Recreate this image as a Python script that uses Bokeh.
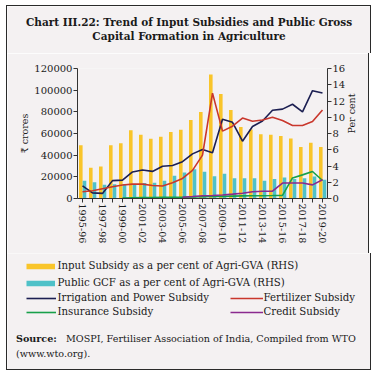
import math
from bokeh.plotting import figure
from bokeh.layouts import column
from bokeh.models import (Range1d, LinearAxis, FixedTicker, Legend, LegendItem, Label,
                          ColumnDataSource, BasicTickFormatter)
from bokeh.transform import dodge
from bokeh.embed import file_html
from bokeh.resources import INLINE

nan = float("nan")

years = ["1995-96", "1996-97", "1997-98", "1998-99", "1999-00", "2000-01", "2001-02",
         "2002-03", "2003-04", "2004-05", "2005-06", "2006-07", "2007-08", "2008-09",
         "2009-10", "2010-11", "2011-12", "2012-13", "2013-14", "2014-15", "2015-16",
         "2016-17", "2017-18", "2018-19", "2019-20"]

input_subsidy_pct = [6.55, 3.8, 3.95, 6.55, 6.8, 8.4, 7.85, 7.35, 7.6, 8.2, 8.45, 9.65, 10.65,
                     15.25, 12.85, 10.9, 8.8, 8.5, 7.9, 7.85, 7.7, 7.4, 6.35, 6.85, 6.35]
public_gcf_pct = [2.2, 2.0, 1.7, 1.75, 1.8, 1.75, 1.9, 1.95, 2.2, 2.8, 3.2, 3.6, 3.3, 2.75,
                  3.05, 2.5, 2.5, 2.5, 2.2, 2.4, 2.6, 2.4, 2.5, 2.7, 2.3]
irrigation_power = [11700, 5200, 4700, 16500, 17000, 24500, 26300, 25000, 29700, 30500, 34000,
                    41200, 45300, 42200, 73200, 70300, 52900, 66500, 71500, 81500, 82500,
                    87000, 80000, 99500, 97300]
fertilizer = [6300, 7200, 9000, 10800, 12400, 13300, 13300, 12000, 11500, 14500, 18500, 26000,
              40000, 97300, 62200, 66700, 74300, 71300, 72500, 75000, 72000, 67400, 67400,
              71000, 81700]
insurance = [nan, nan, nan, nan, 400, 600, 800, 900, 1000, 1100, 1200, 1400, 1600, 1800, 2000,
             2200, 2400, 2500, 2600, 2700, 2900, 19000, 21800, 24900, 16600]
credit = [nan] * 10 + [1200, 1800, 2500, 2800, 3200, 4000, 4900, 6300, 6700, 6700, 14300,
                       14300, 14300, 12600, 17300]

left_ticks = [0, 20000, 40000, 60000, 80000, 100000, 120000]
right_ticks = [0, 2, 4, 6, 8, 10, 12, 14, 16]

FONT = "DejaVu Serif"
BG = "#f4f1f2"
INK = "#1a1a1a"
EDGE = "1.5px solid #2a2a2a"
C_IN, C_GCF = "#f9c52a", "#4fc1c8"
C_IRR, C_FER, C_INS, C_CRE = "#1c1f52", "#c9372c", "#18a04a", "#8a2a8f"
W = 363

idx = list(range(len(years)))
src = ColumnDataSource(dict(idx=idx, inp=input_subsidy_pct, gcf=public_gcf_pct,
                            irr=irrigation_power, fer=fertilizer, ins=insurance, cre=credit))


def no_align(f):
    if "frame_align" in f.properties():
        f.frame_align = False


def blank_fig(h, styles):
    f = figure(frame_width=W, frame_height=h, output_backend="svg", toolbar_location=None,
               x_range=Range1d(0, W), y_range=Range1d(0, h),
               x_axis_type=None, y_axis_type=None, min_border=0,
               min_border_left=0, min_border_right=0, min_border_top=0, min_border_bottom=0,
               background_fill_color=BG, border_fill_color=BG, outline_line_color=None)
    f.xgrid.visible = False
    f.ygrid.visible = False
    f.styles = styles
    no_align(f)
    return f


def lab(f, text, x, y, size, bold=False, align="left"):
    f.add_layout(Label(x=x, y=y, x_units="screen", y_units="screen", text=text,
                       text_font=FONT, text_font_size=size, text_color=INK,
                       text_font_style="bold" if bold else "normal",
                       text_align=align, text_baseline="middle"))


# ---- title ----
t = blank_fig(47, {"border-top": EDGE, "border-left": EDGE, "border-right": EDGE})
lab(t, "Chart III.22: Trend of Input Subsidies and Public Gross", 181.5, 32.5, "10.5px", True, "center")
lab(t, "Capital Formation in Agriculture", 181.5, 18.5, "10.5px", True, "center")

# ---- main chart ----
p = figure(width=W, height=200, output_backend="svg", toolbar_location=None,
           x_range=Range1d(-0.5, len(years) - 0.5), y_range=Range1d(0, 120000),
           min_border_left=70, min_border_right=43, min_border_top=15, min_border_bottom=55,
           background_fill_color=BG, border_fill_color=BG, outline_line_color=None)
p.styles = {"border-left": EDGE, "border-right": EDGE}
no_align(p)
p.extra_y_ranges = {"pct": Range1d(0, 16)}
p.xgrid.visible = False
p.ygrid.visible = False

p.vbar(x=dodge("idx", -0.17, range=p.x_range), top="inp", width=0.36, bottom=0,
       source=src, y_range_name="pct", fill_color=C_IN, line_color=None)
p.vbar(x=dodge("idx", 0.2, range=p.x_range), top="gcf", width=0.36, bottom=0,
       source=src, y_range_name="pct", fill_color=C_GCF, line_color=None)
p.line("idx", "irr", source=src, line_color=C_IRR, line_width=1.6)
p.line("idx", "fer", source=src, line_color=C_FER, line_width=1.6)
p.line("idx", "ins", source=src, line_color=C_INS, line_width=1.6)
p.line("idx", "cre", source=src, line_color=C_CRE, line_width=1.6)


def style_axis(ax):
    ax.axis_line_color = "#333333"
    ax.major_tick_line_color = "#333333"
    ax.major_tick_in = 0
    ax.major_tick_out = 4
    ax.minor_tick_line_color = None
    ax.major_label_text_font = FONT
    ax.major_label_text_font_size = "10px"
    ax.major_label_text_color = INK
    ax.major_label_standoff = 1
    ax.axis_label_text_font = FONT
    ax.axis_label_text_font_size = "9.5px"
    ax.axis_label_text_font_style = "normal"
    ax.axis_label_text_color = INK
    ax.axis_label_standoff = 1


xa = p.xaxis[0]
style_axis(xa)
xa.ticker = FixedTicker(ticks=idx)
xa.major_label_overrides = {i: (years[i] if i % 2 == 0 else "") for i in idx}
xa.major_label_orientation = "vertical"
xa.major_label_text_font_size = "9.6px"

ya = p.yaxis[0]
style_axis(ya)
ya.ticker = FixedTicker(ticks=left_ticks)
ya.formatter = BasicTickFormatter(use_scientific=False)
ya.axis_label = "₹ crores"

ar = LinearAxis(y_range_name="pct", ticker=FixedTicker(ticks=right_ticks), axis_label="Per cent")
style_axis(ar)
ar.axis_label_standoff = 3
if "axis_label_orientation" in ar.properties():
    ar.axis_label_orientation = math.pi / 2
p.add_layout(ar, "right")

# ---- legend + source ----
g = blank_fig(116, {"border-bottom": EDGE, "border-left": EDGE, "border-right": EDGE})
g.extra_x_ranges = {"data": Range1d(-0.5, len(years) - 0.5)}
g.extra_y_ranges = {"crore": Range1d(0, 120000)}


def key(col, color, width):
    return g.line("idx", col, source=src, x_range_name="data", y_range_name="crore",
                  line_color=color, line_width=width, line_cap="butt", visible=False)


k_in = key("inp", C_IN, 5.5)
k_gcf = key("gcf", C_GCF, 5.5)
k_irr = key("irr", C_IRR, 1.6)
k_fer = key("fer", C_FER, 1.6)
k_ins = key("ins", C_INS, 1.6)
k_cre = key("cre", C_CRE, 1.6)


def mk_legend(pairs, loc, gw, h, sp, st):
    g.add_layout(Legend(items=[LegendItem(label=l, renderers=[r]) for l, r in pairs],
                        location=loc, orientation="vertical", border_line_color=None,
                        background_fill_alpha=0, padding=0, margin=0, spacing=sp,
                        glyph_width=gw, glyph_height=h, label_height=h, label_standoff=st,
                        inactive_fill_alpha=0,
                        label_text_font=FONT, label_text_font_size="10.2px",
                        label_text_color=INK))


mk_legend([("Input Subsidy as a per cent of Agri-GVA (RHS)", k_in),
           ("Public GCF as a per cent of Agri-GVA (RHS)", k_gcf)], (18.5, 80.5), 29, 14, 3, 3)
mk_legend([("Irrigation and Power Subsidy", k_irr),
           ("Insurance Subsidy", k_ins)], (18.5, 52.5), 30, 12, 2, 2)
mk_legend([("Fertilizer Subsidy", k_fer),
           ("Credit Subsidy", k_cre)], (222.5, 52.5), 33, 12, 2, 1)

lab(g, "Source:", 8.5, 32.5, "9.6px", True)
lab(g, "MOSPI, Fertiliser Association of India, Compiled from WTO", 58.5, 32.5, "9.6px")
lab(g, "(www.wto.org).", 8.5, 17.5, "9.6px")

layout = column(t, p, g, spacing=0, margin=(5, 0, 0, 6))
open("out.html", "w").write(file_html(layout, INLINE))
